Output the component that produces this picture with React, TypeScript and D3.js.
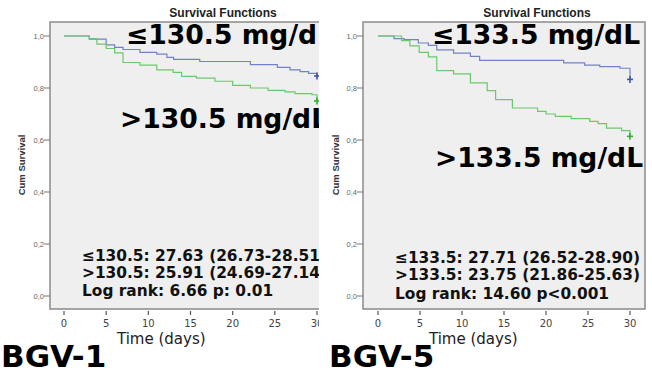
import React from "react";
import * as d3 from "d3";

// ---- data ----
const xTicks = [0, 5, 10, 15, 20, 25, 30];
const yTicks = [0, 0.2, 0.4, 0.6, 0.8, 1.0];

// BGV-1
const bgv1LowTimes = [0, 3.0, 5.0, 6.0, 7.0, 9.0, 11.0, 12.2, 13.0, 16.1, 22.1, 25.3, 26.8, 28.0, 29.0, 30];
const bgv1LowSurv = [1, 0.988, 0.966, 0.956, 0.948, 0.937, 0.93, 0.918, 0.91, 0.902, 0.89, 0.879, 0.87, 0.863, 0.856, 0.846];
const bgv1HighTimes = [0, 3.0, 3.9, 5.0, 6.0, 7.0, 9.0, 11.0, 12.95, 13.95, 15.7, 17.9, 20.0, 22.1, 24.2, 26.2, 27.4, 29.4, 30];
const bgv1HighSurv = [1, 0.99, 0.969, 0.952, 0.935, 0.898, 0.888, 0.87, 0.86, 0.845, 0.838, 0.826, 0.81, 0.8, 0.791, 0.785, 0.778, 0.774, 0.75];

// BGV-5
const bgv5LowTimes = [0, 1.9, 3.1, 4.8, 6.0, 7.0, 9.0, 11.0, 12.1, 22.1, 24.6, 26.4, 28.8, 30];
const bgv5LowSurv = [1, 0.99, 0.986, 0.973, 0.964, 0.947, 0.934, 0.922, 0.906, 0.897, 0.888, 0.882, 0.876, 0.833];
const bgv5HighTimes = [0, 2.8, 3.8, 4.9, 6.0, 7.0, 9.0, 11.0, 13.0, 14.0, 16.0, 19.0, 20.0, 21.1, 23.0, 25.2, 26.2, 27.2, 29.0, 30];
const bgv5HighSurv = [1, 0.982, 0.962, 0.937, 0.92, 0.867, 0.854, 0.82, 0.79, 0.755, 0.723, 0.71, 0.7, 0.691, 0.682, 0.672, 0.663, 0.646, 0.636, 0.614];

const bgv1Labels = ["≤130.5 mg/dL", ">130.5 mg/dL"];
const bgv1Stats = ["≤130.5: 27.63 (26.73-28.51)", ">130.5: 25.91 (24.69-27.14)", "Log rank: 6.66 p: 0.01"];
const bgv5Labels = ["≤133.5 mg/dL", ">133.5 mg/dL"];
const bgv5Stats = ["≤133.5: 27.71 (26.52-28.90)", ">133.5: 23.75 (21.86-25.63)", "Log rank: 14.60 p<0.001"];

const BLUE = "#7282c4";
const GREEN = "#6cc86c";
const BLUE_D = "#3f55a8";
const GREEN_D = "#34ac34";
const BOLD = "'DejaVu Sans', Verdana, sans-serif";
const ARIAL = "'Liberation Sans', Arial, sans-serif";

type PanelProps = {
  id: string;
  clipW: number;
  frameL: number;
  frameR: number;
  x0: number;
  x30: number;
  lowT: number[];
  lowS: number[];
  highT: number[];
  highS: number[];
  labels: string[];
  labelPos: number[][];
  stats: string[];
  statsX: number;
  statsY: number[];
  name: string;
  nameX: number;
  timeX: number;
  axisLabelX: number;
  titleX: number;
};

const FRAME_T = 22;
const FRAME_B = 309;

function Panel(p: PanelProps) {
  const x = d3.scaleLinear().domain([0, 30]).range([p.x0, p.x30]);
  const y = d3.scaleLinear().domain([0, 1]).range([296, 36]);
  const line = d3
    .line<[number, number]>()
    .x((d) => x(d[0]))
    .y((d) => y(d[1]))
    .curve(d3.curveStepAfter);
  const low = p.lowT.map((t, i) => [t, p.lowS[i]] as [number, number]);
  const high = p.highT.map((t, i) => [t, p.highS[i]] as [number, number]);
  const endLow = low[low.length - 1];
  const endHigh = high[high.length - 1];
  const plus = (cx: number, cy: number, c: string) => (
    <g stroke={c} strokeWidth={1.6}>
      <line x1={cx - 3} x2={cx + 3} y1={cy} y2={cy} />
      <line x1={cx} x2={cx} y1={cy - 3.5} y2={cy + 3.5} />
    </g>
  );
  return (
    <g clipPath={`url(#${p.id})`}>
      <defs>
        <clipPath id={p.id}>
          <rect x={0} y={0} width={p.clipW} height={371} />
        </clipPath>
      </defs>
      <text x={p.titleX} y={17} textAnchor="middle" fontFamily={ARIAL} fontSize={12} fill="#222" fontWeight={600}>
        Survival Functions
      </text>
      <rect x={p.frameL} y={FRAME_T} width={p.frameR - p.frameL} height={FRAME_B - FRAME_T} fill="#efefef" stroke="#8a8a8a" strokeWidth={1.5} />
      {yTicks.map((v) => (
        <g key={v}>
          <line x1={p.frameL - 6} x2={p.frameL} y1={y(v)} y2={y(v)} stroke="#777" strokeWidth={1} />
          <text x={p.frameL - 6} y={y(v) + 2.5} textAnchor="end" fontFamily={ARIAL} fontSize={7.5} fill="#666">
            {v.toFixed(1).replace(".", ",")}
          </text>
        </g>
      ))}
      <text
        transform={`translate(${p.axisLabelX},165) rotate(-90)`}
        textAnchor="middle"
        fontFamily={ARIAL}
        fontWeight="bold"
        fontSize={9.5}
        fill="#333"
      >
        Cum Survival
      </text>
      {xTicks.map((t) => (
        <g key={t}>
          <line x1={x(t)} x2={x(t)} y1={FRAME_B + 2} y2={FRAME_B + 6} stroke="#555" strokeWidth={1.2} />
          <text x={x(t)} y={327} textAnchor="middle" fontFamily={BOLD} fontSize={10} fill="#444">
            {t}
          </text>
        </g>
      ))}
      <path d={line(low) ?? ""} fill="none" stroke={BLUE} strokeWidth={1.2} />
      <path d={line(high) ?? ""} fill="none" stroke={GREEN} strokeWidth={1.2} />
      {plus(x(endLow[0]), y(endLow[1]), BLUE_D)}
      {plus(x(endHigh[0]), y(endHigh[1]), GREEN_D)}
      {p.labels.map((l, i) => (
        <text key={l} x={p.labelPos[i][0]} y={p.labelPos[i][1]} fontFamily={BOLD} fontWeight="bold" fontSize={26.6} fill="#000">
          {l}
        </text>
      ))}
      {p.stats.map((s, i) => (
        <text key={s} x={p.statsX} y={p.statsY[i]} fontFamily={BOLD} fontWeight="bold" fontSize={15.4} fill="#111">
          {s}
        </text>
      ))}
      <text x={p.timeX} y={344} fontFamily={BOLD} fontSize={15} fill="#222">
        Time (days)
      </text>
      <text x={p.nameX} y={367} fontFamily={BOLD} fontWeight="bold" fontSize={31} fill="#000">
        {p.name}
      </text>
    </g>
  );
}

export default function App() {
  return (
    <svg width={652} height={371} style={{ position: "absolute", left: 0, top: 0 }}>
      <rect x={0} y={0} width={652} height={371} fill="#fff" />
      <Panel
        id="clipL"
        clipW={319}
        frameL={50}
        frameR={334}
        x0={64}
        x30={317}
        lowT={bgv1LowTimes}
        lowS={bgv1LowSurv}
        highT={bgv1HighTimes}
        highS={bgv1HighSurv}
        labels={bgv1Labels}
        labelPos={[[126, 44], [120, 128]]}
        stats={bgv1Stats}
        statsX={82}
        statsY={[261, 278, 296]}
        name="BGV-1"
        nameX={1}
        timeX={117}
        axisLabelX={25}
        titleX={223}
      />
      <Panel
        id="clipR"
        clipW={652}
        frameL={363}
        frameR={645}
        x0={378}
        x30={630}
        lowT={bgv5LowTimes}
        lowS={bgv5LowSurv}
        highT={bgv5HighTimes}
        highS={bgv5HighSurv}
        labels={bgv5Labels}
        labelPos={[[432, 44], [435, 167]]}
        stats={bgv5Stats}
        statsX={395}
        statsY={[263, 280, 299]}
        name="BGV-5"
        nameX={329}
        timeX={429}
        axisLabelX={339}
        titleX={537}
      />
    </svg>
  );
}
